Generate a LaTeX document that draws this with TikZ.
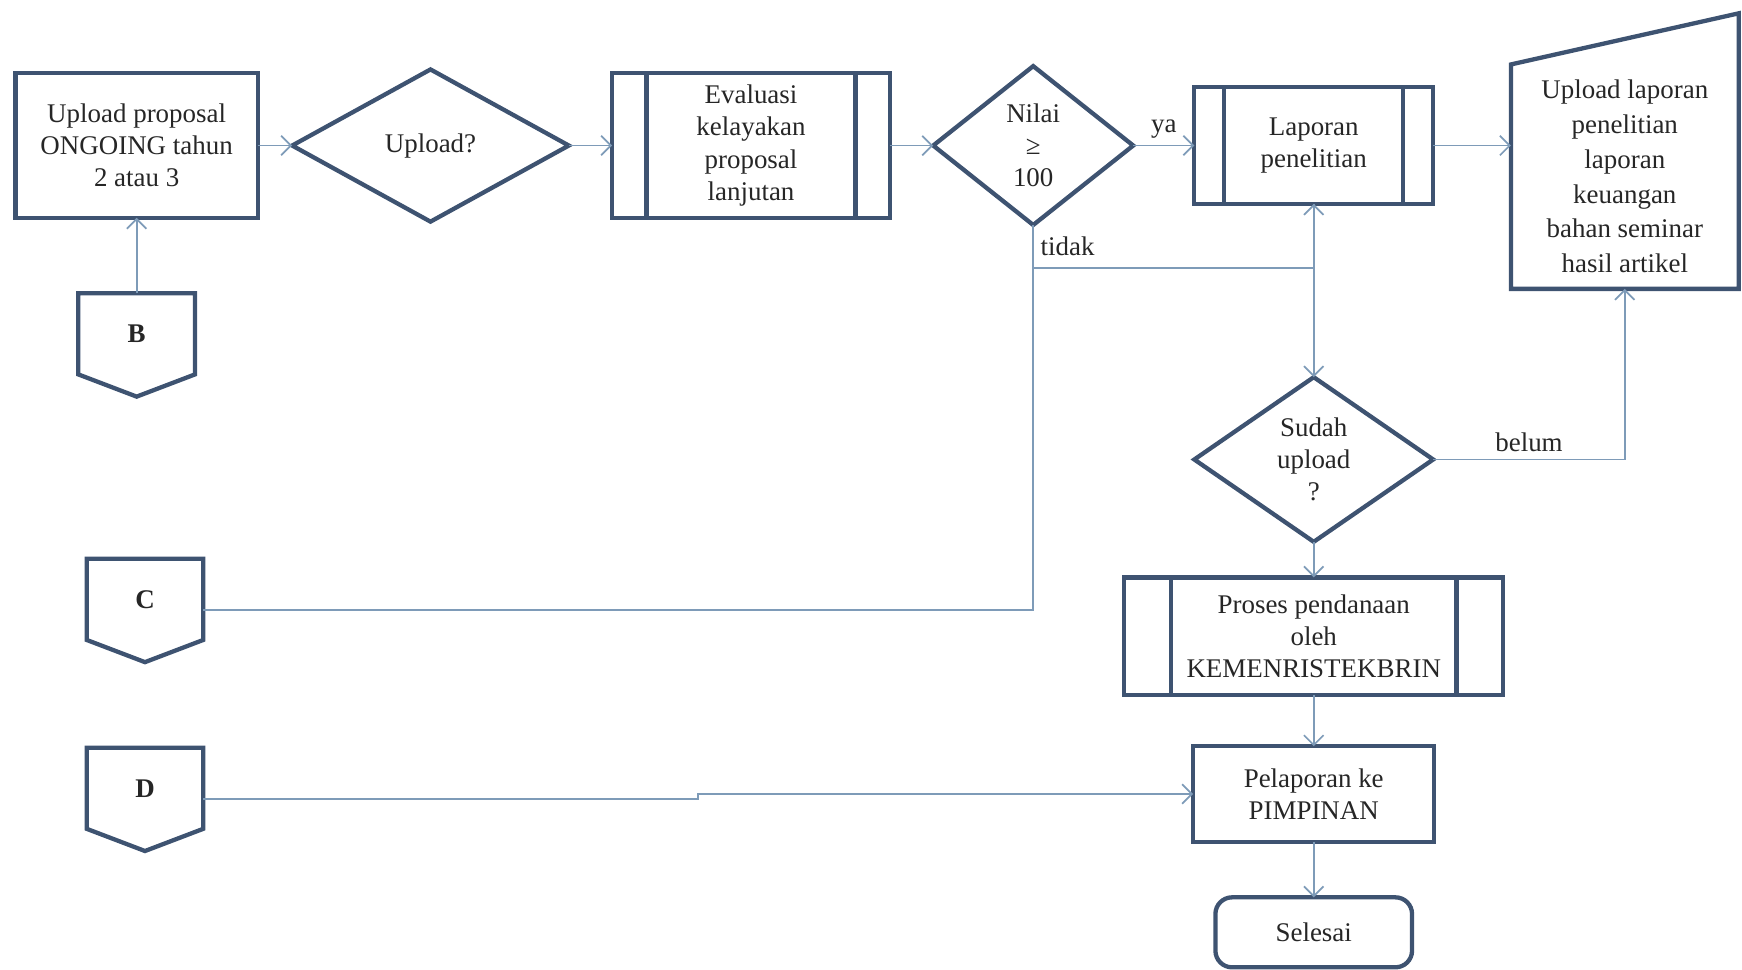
\documentclass[tikz,border=0pt]{standalone}
\usepackage{fontspec}
\setmainfont{Liberation Serif}
\usepackage{tikz}
\usetikzlibrary{positioning,shapes.geometric,arrows.meta}

\definecolor{boxblue}{HTML}{3E5371}
\definecolor{lineblue}{HTML}{7E9BB8}

\tikzset{
	box/.style={draw=boxblue, line width=2.2pt, outer sep=0pt, align=center, inner sep=2pt, text=black!85,
		font=\fontsize{13.8}{16.5}\selectfont},
	dec/.style={box, diamond, inner sep=1pt},
	predef/.style={box, path picture={
		\draw[boxblue, line width=2.2pt]
			([xshift=#1]path picture bounding box.north west) -- ([xshift=#1]path picture bounding box.south west)
			([xshift=-#1]path picture bounding box.north east) -- ([xshift=-#1]path picture bounding box.south east);}},
	predef/.default=0.6cm,
	conn/.style={align=center, text=black!85, font=\fontsize{13.8}{16.5}\selectfont\bfseries,
		minimum width=2.1cm, minimum height=1.46cm, inner sep=0pt, outer sep=0pt},
	lbl/.style={text=black!85, font=\fontsize{13.8}{16.5}\selectfont},
	line/.style={draw=lineblue, line width=0.9pt},
	flow/.style={line, -{Straight Barb[length=5pt,width=10pt]}}
}

% off-page connector drawn round a plain node
\newcommand{\offpg}[1]{\draw[boxblue, line width=2.2pt, line join=miter]
	(#1.south west) -- (#1.north west) -- (#1.north east) -- (#1.south east) -- ([yshift=-0.4cm]#1.south) -- cycle;}
% manual input (sloped top)
\newcommand{\manin}[1]{\draw[boxblue, line width=2.2pt, line join=miter]
	(#1.south west) -- (#1.north west) -- ([yshift=0.92cm]#1.north east) -- (#1.south east) -- cycle;}

\begin{document}
\begin{tikzpicture}
	\useasboundingbox (0,0) rectangle (31.36,-17.46);

	% top row
	\node[box, minimum width=4.36cm, minimum height=2.6cm] (up) at (2.46,-2.62) {Upload proposal\\ONGOING tahun\\2 atau 3};
	\node[dec, minimum width=4.98cm, minimum height=2.74cm, right=0.62 of up] (updec) {Upload?};
	\node[predef=0.62cm, minimum width=5cm, minimum height=2.62cm, right=0.78 of updec] (eval) {Evaluasi\\kelayakan\\proposal\\lanjutan};
	\node[dec, minimum width=3.6cm, minimum height=2.86cm, right=0.78 of eval] (nilai) {Nilai\\≥\\100};
	\node[predef=0.54cm, minimum width=4.3cm, minimum height=2.1cm, right=1.1 of nilai] (lap) {Laporan\\penelitian};
	\node[box, draw=none, minimum width=4.1cm, minimum height=4.04cm, font=\fontsize{13.8}{17.8}\selectfont] (uplap) at (29.25,-3.18)
		{Upload laporan\\penelitian\\laporan\\keuangan\\bahan seminar\\hasil artikel};
	\manin{uplap}

	% right column
	\node[dec, minimum width=4.3cm, minimum height=2.9cm, below=3.12 of lap] (sudah) {Sudah\\upload\\?};
	\node[predef=0.84cm, minimum width=6.82cm, minimum height=2.12cm, below=0.64 of sudah] (proses) {Proses pendanaan\\oleh\\KEMENRISTEKBRIN};
	\node[box, minimum width=4.34cm, minimum height=1.72cm, below=0.92 of proses] (pelap) {Pelaporan ke\\PIMPINAN};
	\node[box, rounded corners=0.3cm, minimum width=3.54cm, minimum height=1.26cm, below=1.0 of pelap] (selesai) {Selesai};

	% connectors B, C, D
	\node[conn, below=1.36 of up] (B) {B};
	\node[conn] (C) at (2.61,-10.79) {C};
	\node[conn, below=1.94 of C] (D) {D};
	\offpg{B}
	\offpg{C}
	\offpg{D}

	\coordinate[below=0.78 of nilai.south] (tj);

	% edges
	\draw[flow] (B) -- (up);
	\draw[flow] (up) -- (updec);
	\draw[flow] (updec) -- (eval);
	\draw[flow] (eval) -- (nilai);
	\draw[flow] (nilai) -- node[lbl, above] (ya) {ya} (lap);
	\draw[flow] (lap.east) -- (lap.east -| uplap.west);
	\draw[line] (nilai.south) -- node[lbl, right] (tidak) {tidak} (tj);
	\draw[line] ([yshift=-0.19cm]C.east) -| (tj);
	\draw[flow] (tj) -| (lap.south);
	\draw[flow] (lap.south) -- (sudah.north);
	\draw[flow] (sudah.east) -| node[lbl, pos=0.25, above] (belum) {belum} (uplap.south);
	\draw[flow] (sudah) -- (proses);
	\draw[flow] (proses) -- (pelap);
	\draw[flow] ([yshift=-0.19cm]D.east) -- ++(8.9,0) |- (pelap.west);
	\draw[flow] (pelap) -- (selesai);

\end{tikzpicture}
\end{document}
